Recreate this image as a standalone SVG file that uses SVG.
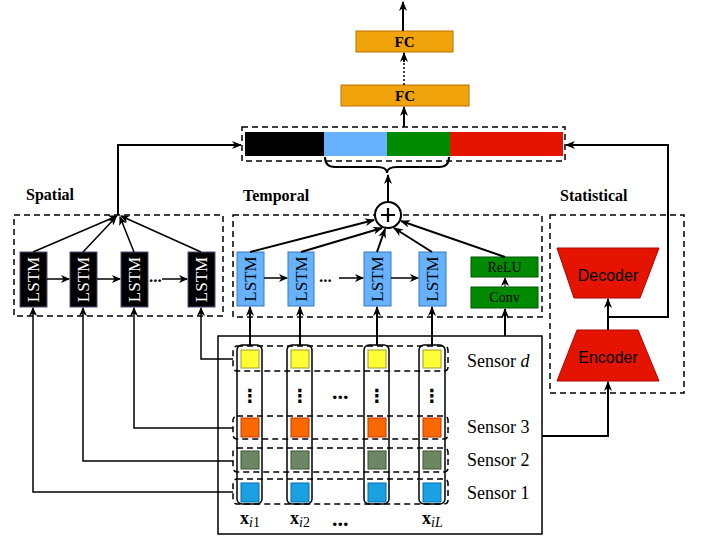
<svg xmlns="http://www.w3.org/2000/svg" width="701" height="537" viewBox="0 0 701 537">
<defs>
<marker id="arr" markerWidth="10" markerHeight="8" refX="9" refY="4" orient="auto" markerUnits="userSpaceOnUse">
<path d="M0,0 L10,4 L0,8 L3,4 Z" fill="#000"/>
</marker>
<marker id="arrs" markerWidth="9" markerHeight="8" refX="8" refY="4" orient="auto" markerUnits="userSpaceOnUse">
<path d="M0,0 L9,4 L0,8 L2.5,4 Z" fill="#000"/>
</marker>
</defs>
<style>
.dash{fill:none;stroke:#000;stroke-width:1.5;stroke-dasharray:6 4}
.serif{font-family:"Liberation Serif","Times New Roman",serif}
.sans{font-family:"Liberation Sans",Arial,Helvetica,sans-serif}
.lbl{font-family:"Liberation Serif","Times New Roman",serif;font-weight:bold;font-size:16px}
.c2{fill:none;stroke:#000;stroke-width:2}
.c15{fill:none;stroke:#000;stroke-width:1.5}
.sl{fill:#000;stroke:#5d4b7a;stroke-width:1}
.tl{fill:#66B2FF;stroke:#3a79c0;stroke-width:1}
.sq{stroke-width:1}
.fc{fill:#F0A30A;stroke:#BD7000;stroke-width:1}
.gr{fill:#008A00;stroke:#005700;stroke-width:1}
.rd{fill:#E51400;stroke:#B20000;stroke-width:1}
.lt{font-family:"Liberation Serif","Times New Roman",serif;font-size:17px;text-anchor:middle;dominant-baseline:central}
.sens{font-family:"Liberation Serif","Times New Roman",serif;font-size:18px}
</style>

<!-- section labels -->
<text class="lbl" x="26" y="200">Spatial</text>
<text class="lbl" x="243" y="201">Temporal</text>
<text class="lbl" x="560" y="201">Statistical</text>

<!-- group boxes -->
<rect class="dash" x="14" y="215" width="209" height="101"/>
<rect class="dash" x="233" y="215" width="309" height="102"/>
<rect class="dash" x="550" y="215" width="134" height="178"/>

<!-- FC nodes -->
<g id="fc2"><rect class="fc" x="356" y="31" width="97" height="21"/><text class="serif" x="404.5" y="47" font-size="15" font-weight="bold" text-anchor="middle">FC</text></g>
<g id="fc1"><rect class="fc" x="341" y="85" width="128" height="21"/><text class="serif" x="405" y="101" font-size="15" font-weight="bold" text-anchor="middle">FC</text></g>

<!-- concat -->
<g id="concat">
<rect class="dash" x="242" y="127" width="323" height="34"/>
<rect x="245" y="132" width="79" height="24" fill="#000"/>
<rect x="324" y="132" width="63" height="24" fill="#66B2FF"/>
<rect x="387" y="132" width="63" height="24" fill="#008A00"/>
<rect x="450" y="132" width="113" height="24" fill="#E51400"/>
</g>

<!-- plus -->
<g id="plus">
<circle cx="388" cy="215" r="13" fill="#fff" stroke="#000" stroke-width="2"/>
<path d="M381,215 H395 M388,208 V222" stroke="#000" stroke-width="2.2"/>
</g>

<!-- spatial LSTMs -->
<g id="s1"><rect class="sl" x="20" y="252" width="27" height="55"/><text class="lt" fill="#fff" transform="translate(33.5,279.5) rotate(-90)">LSTM</text></g>
<g id="s2"><rect class="sl" x="70" y="252" width="27" height="55"/><text class="lt" fill="#fff" transform="translate(83.5,279.5) rotate(-90)">LSTM</text></g>
<g id="s3"><rect class="sl" x="121" y="252" width="27" height="55"/><text class="lt" fill="#fff" transform="translate(134.5,279.5) rotate(-90)">LSTM</text></g>
<g id="s4"><rect class="sl" x="188" y="252" width="27" height="55"/><text class="lt" fill="#fff" transform="translate(201.5,279.5) rotate(-90)">LSTM</text></g>
<text class="serif" x="149" y="282" font-size="17" font-weight="bold">...</text>

<!-- temporal LSTMs -->
<g id="t1"><rect class="tl" x="237" y="252" width="27" height="54"/><text class="lt" fill="#000" transform="translate(250.5,279) rotate(-90)">LSTM</text></g>
<g id="t2"><rect class="tl" x="288" y="252" width="26" height="54"/><text class="lt" fill="#000" transform="translate(301,279) rotate(-90)">LSTM</text></g>
<g id="t3"><rect class="tl" x="364" y="252" width="27" height="54"/><text class="lt" fill="#000" transform="translate(377.5,279) rotate(-90)">LSTM</text></g>
<g id="t4"><rect class="tl" x="419" y="252" width="27" height="54"/><text class="lt" fill="#000" transform="translate(432.5,279) rotate(-90)">LSTM</text></g>
<text class="serif" x="319" y="282" font-size="17" font-weight="bold">...</text>
<g id="relu"><rect class="gr" x="471" y="257" width="67" height="20"/><text class="serif" x="504.5" y="272" font-size="14" text-anchor="middle">ReLU</text></g>
<g id="conv"><rect class="gr" x="471" y="287" width="67" height="21"/><text class="serif" x="504.5" y="302" font-size="14" text-anchor="middle">Conv</text></g>

<!-- statistical -->
<g id="decoder"><path class="rd" d="M557,248 H659 L640,298 H574 Z"/><text class="sans" x="608" y="281" font-size="16" text-anchor="middle">Decoder</text></g>
<g id="encoder"><path class="rd" d="M577,330 H638 L659,381 H557 Z"/><text class="sans" x="608" y="363" font-size="16" text-anchor="middle">Encoder</text></g>

<!-- input -->
<g id="input">
<rect x="218" y="336" width="324" height="198" fill="none" stroke="#000" stroke-width="1.5"/>
<rect class="dash" x="233" y="346" width="215" height="25" rx="4"/>
<rect class="dash" x="233" y="416" width="215" height="23" rx="4"/>
<rect class="dash" x="233" y="448" width="215" height="24" rx="4"/>
<rect class="dash" x="233" y="479" width="215" height="25" rx="4"/>
<rect x="237" y="345" width="25" height="159" rx="5" fill="none" stroke="#000" stroke-width="1.5"/>
<rect x="287" y="345" width="25" height="159" rx="5" fill="none" stroke="#000" stroke-width="1.5"/>
<rect x="364" y="345" width="25" height="159" rx="5" fill="none" stroke="#000" stroke-width="1.5"/>
<rect x="419" y="345" width="26" height="159" rx="5" fill="none" stroke="#000" stroke-width="1.5"/>
<g class="sq">
<rect x="241" y="350" width="18" height="18" fill="#FFFF33" stroke="#9c9c2a"/>
<rect x="291" y="350" width="18" height="18" fill="#FFFF33" stroke="#9c9c2a"/>
<rect x="368" y="350" width="18" height="18" fill="#FFFF33" stroke="#9c9c2a"/>
<rect x="423" y="350" width="18" height="18" fill="#FFFF33" stroke="#9c9c2a"/>
<rect x="241" y="418" width="18" height="19" fill="#FA6800" stroke="#C73500"/>
<rect x="291" y="418" width="18" height="19" fill="#FA6800" stroke="#C73500"/>
<rect x="368" y="418" width="18" height="19" fill="#FA6800" stroke="#C73500"/>
<rect x="423" y="418" width="18" height="19" fill="#FA6800" stroke="#C73500"/>
<rect x="241" y="451" width="18" height="18" fill="#6D8764" stroke="#3A5431"/>
<rect x="291" y="451" width="18" height="18" fill="#6D8764" stroke="#3A5431"/>
<rect x="368" y="451" width="18" height="18" fill="#6D8764" stroke="#3A5431"/>
<rect x="423" y="451" width="18" height="18" fill="#6D8764" stroke="#3A5431"/>
<rect x="241" y="483" width="18" height="19" fill="#1BA1E2" stroke="#006EAF"/>
<rect x="291" y="483" width="18" height="19" fill="#1BA1E2" stroke="#006EAF"/>
<rect x="368" y="483" width="18" height="19" fill="#1BA1E2" stroke="#006EAF"/>
<rect x="423" y="483" width="18" height="19" fill="#1BA1E2" stroke="#006EAF"/>
</g>
<g font-family="DejaVu Sans, sans-serif" font-size="18" font-weight="bold" text-anchor="middle">
<text x="250" y="402">⋮</text>
<text x="300" y="402">⋮</text>
<text x="377" y="402">⋮</text>
<text x="432" y="402">⋮</text>
</g>
<text class="serif" x="332" y="399" font-size="22" font-weight="bold">...</text>
<text class="serif" x="332" y="526" font-size="22" font-weight="bold">...</text>
<text class="sens" x="467" y="367">Sensor <tspan font-style="italic">d</tspan></text>
<text class="sens" x="467" y="433">Sensor 3</text>
<text class="sens" x="467" y="466">Sensor 2</text>
<text class="sens" x="467" y="499">Sensor 1</text>
<g class="serif">
<text x="240" y="524" font-size="18" font-weight="bold">x<tspan font-size="14" font-weight="normal" dy="3"><tspan font-style="italic">i</tspan>1</tspan></text>
<text x="290" y="524" font-size="18" font-weight="bold">x<tspan font-size="14" font-weight="normal" dy="3"><tspan font-style="italic">i</tspan>2</tspan></text>
<text x="422" y="524" font-size="18" font-weight="bold">x<tspan font-size="14" font-weight="normal" dy="3"><tspan font-style="italic">iL</tspan></tspan></text>
</g>
</g>

<!-- connectors -->
<g id="connectors">
<line class="c2" x1="403" y1="31" x2="403" y2="2" marker-end="url(#arr)"/>
<line x1="404" y1="85" x2="404" y2="53" stroke="#000" stroke-width="1.5" stroke-dasharray="2 2"/>
<line class="c2" x1="404" y1="62" x2="404" y2="53" marker-end="url(#arr)"/>
<line class="c2" x1="404" y1="127" x2="404" y2="107" marker-end="url(#arr)"/>
<path class="c2" d="M325,157 Q325,167 335,167 L377,167 Q387,167 387,173 Q387,167 397,167 L439,167 Q449,167 449,157"/>
<line class="c2" x1="388" y1="202" x2="388" y2="175" marker-end="url(#arr)"/>
<!-- spatial -->
<polyline class="c2" points="118,215 118,145 241,145" marker-end="url(#arr)"/>
<line class="c15" x1="33" y1="252" x2="117" y2="216" marker-end="url(#arrs)"/>
<line class="c15" x1="83" y1="252" x2="116" y2="217" marker-end="url(#arrs)"/>
<line class="c15" x1="134" y1="252" x2="120" y2="217" marker-end="url(#arrs)"/>
<line class="c15" x1="201" y1="252" x2="121" y2="216" marker-end="url(#arrs)"/>
<line class="c15" x1="47" y1="279" x2="69" y2="279" marker-end="url(#arrs)"/>
<line class="c15" x1="97" y1="279" x2="120" y2="279" marker-end="url(#arrs)"/>
<line class="c15" x1="162" y1="279" x2="187" y2="279" marker-end="url(#arrs)"/>
<polyline class="c15" points="233,359 201,359 201,308" marker-end="url(#arrs)"/>
<polyline class="c15" points="233,428 134,428 134,308" marker-end="url(#arrs)"/>
<polyline class="c15" points="233,461 83,461 83,308" marker-end="url(#arrs)"/>
<polyline class="c15" points="233,492 33,492 33,308" marker-end="url(#arrs)"/>
<!-- temporal -->
<line class="c2" x1="250" y1="252" x2="374" y2="220" marker-end="url(#arr)"/>
<line class="c2" x1="301" y1="252" x2="382" y2="228" marker-end="url(#arr)"/>
<line class="c2" x1="377" y1="252" x2="385" y2="229" marker-end="url(#arr)"/>
<line class="c2" x1="432" y1="252" x2="394" y2="228" marker-end="url(#arr)"/>
<line class="c2" x1="505" y1="257" x2="401" y2="221" marker-end="url(#arr)"/>
<line class="c15" x1="264" y1="278" x2="287" y2="278" marker-end="url(#arrs)"/>
<line class="c15" x1="339" y1="278" x2="363" y2="278" marker-end="url(#arrs)"/>
<line class="c15" x1="391" y1="278" x2="418" y2="278" marker-end="url(#arrs)"/>
<line x1="505" y1="287" x2="505" y2="278" stroke="#000" stroke-width="1" marker-end="url(#arrs)"/>
<line class="c2" x1="250" y1="345" x2="250" y2="307" marker-end="url(#arr)"/>
<line class="c2" x1="300" y1="345" x2="300" y2="307" marker-end="url(#arr)"/>
<line class="c2" x1="377" y1="345" x2="377" y2="307" marker-end="url(#arr)"/>
<line class="c2" x1="432" y1="345" x2="432" y2="307" marker-end="url(#arr)"/>
<line class="c2" x1="505" y1="336" x2="505" y2="309" marker-end="url(#arr)"/>
<!-- statistical -->
<polyline class="c2" points="542,436 608,436 608,382" marker-end="url(#arr)"/>
<line class="c2" x1="608" y1="330" x2="608" y2="299" marker-end="url(#arr)"/>
<polyline class="c2" points="608,317 668,317 668,145 566,145" marker-end="url(#arr)"/>
</g>
</svg>
